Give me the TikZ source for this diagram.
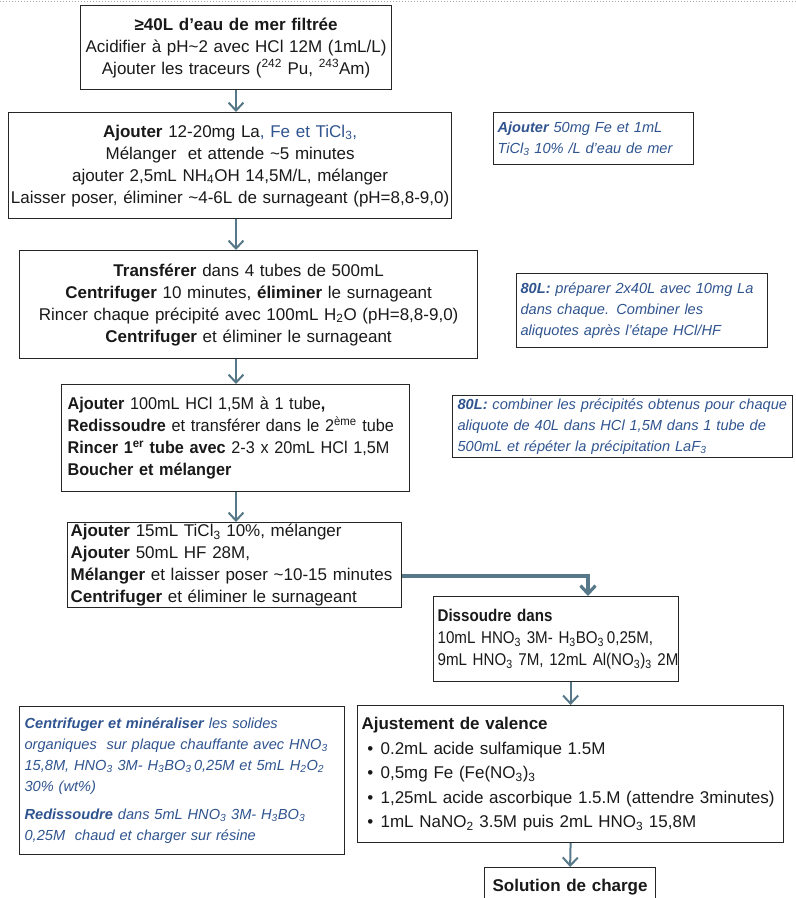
\documentclass[tikz,border=0pt]{standalone}
\usepackage{fontspec}
\setmainfont{Liberation Sans}
\newfontfamily\narrowA[FakeStretch=0.955]{Liberation Sans}
\newfontfamily\narrowB[FakeStretch=0.89]{Liberation Sans}
\usepackage{tikz}
\usetikzlibrary{arrows.meta,positioning}

\definecolor{notecol}{RGB}{47,84,143}
\definecolor{arrcol}{RGB}{86,120,136}
\newcommand{\tld}{\textasciitilde}
\newcommand{\sbs}[1]{\textsubscript{#1}}
\newcommand{\sps}[1]{\textsuperscript{#1}}

\begin{document}
\begin{tikzpicture}[x=1pt,y=-1pt,
    stepbox/.style={draw=black!85, line width=1.2pt, anchor=north west, inner ysep=0pt,
      text=black!90, font=\fontsize{17}{22}\selectfont},
    notebox/.style={draw=black!85, line width=1.2pt, anchor=north west, inner ysep=0pt,
      inner xsep=4pt, align=left, text=notecol, font=\fontsize{14.6}{21}\selectfont\itshape},
    flow/.style={color=arrcol, line width=2pt, -{Straight Barb[length=8pt,width=15pt]}}]
    \useasboundingbox (0,0) rectangle (796,898);
    \draw[dotted, gray!70, line width=1pt] (0,1) -- (796,1);
    %steps
    \node[stepbox, inner xsep=4pt, text width=303pt, minimum height=84pt, align=center] (s1) at (80,5)
      {\textbf{≥40L d’eau de mer filtrée}\\Acidifier à pH\tld2 avec HCl 12M (1mL/L)\\Ajouter les traceurs (\sps{242} Pu, \sps{243}Am)};
    \node[stepbox, inner xsep=2pt, text width=439pt, minimum height=106pt, align=center] (s2) at (8,112)
      {\textbf{Ajouter} 12-20mg La\textcolor{notecol}{, Fe et TiCl\sbs{3},}\\Mélanger\ \ et attende \tld5 minutes\\ajouter 2,5mL NH\sbs{4}OH 14,5M/L, mélanger\\Laisser poser, éliminer \tld4-6L de surnageant (pH=8,8-9,0)};
    \node[stepbox, inner xsep=4pt, text width=450pt, minimum height=108pt, align=center] (s3) at (19,250)
      {\textbf{Transférer} dans 4 tubes de 500mL\\\textbf{Centrifuger} 10 minutes, \textbf{éliminer} le surnageant\\Rincer chaque précipité avec 100mL H\sbs{2}O (pH=8,8-9,0)\\\textbf{Centrifuger} et éliminer le surnageant};
    \node[stepbox, inner xsep=6pt, text width=336pt, minimum height=107pt, align=left,
      font=\narrowA\fontsize{17}{22}\selectfont] (s4) at (61,384)
      {\textbf{Ajouter} 100mL HCl 1,5M à 1 tube\textbf{,}\\\textbf{Redissoudre} et transférer dans le 2\sps{ème} tube\\\textbf{Rincer 1\sps{er} tube avec} 2-3 x 20mL HCl 1,5M\\\textbf{Boucher et mélanger}};
    \node[stepbox, inner xsep=3pt, text width=328pt, minimum height=85pt, align=left] (s5) at (67,522)
      {\textbf{Ajouter} 15mL TiCl\sbs{3} 10\%, mélanger\\\textbf{Ajouter} 50mL HF 28M,\\\textbf{Mélanger} et laisser poser \tld10-15 minutes\\\textbf{Centrifuger} et éliminer le surnageant};
    \node[stepbox, inner xsep=4pt, text width=237pt, minimum height=85pt, align=left,
      font=\narrowB\fontsize{17}{22}\selectfont] (s6) at (433,596)
      {\textbf{Dissoudre dans}\\\mbox{10mL HNO\sbs{3} 3M- H\sbs{3}BO\sbs{3}\,0,25M,}\\\mbox{9mL HNO\sbs{3} 7M, 12mL Al(NO\sbs{3})\sbs{3} 2M}};
    \node[stepbox, inner xsep=4pt, text width=418pt, minimum height=137pt, align=left,
      font=\fontsize{17}{24.5}\selectfont] (s7) at (357,705)
      {\textbf{Ajustement de valence}\\
       \makebox[19pt][l]{\ \textbullet}0.2mL acide sulfamique 1.5M\\
       \makebox[19pt][l]{\ \textbullet}0,5mg Fe (Fe(NO\sbs{3})\sbs{3}\\
       \makebox[19pt][l]{\ \textbullet}1,25mL acide ascorbique 1.5.M (attendre 3minutes)\\
       \makebox[19pt][l]{\ \textbullet}1mL NaNO\sbs{2} 3.5M puis 2mL HNO\sbs{3} 15,8M};
    \node[stepbox, inner xsep=4pt, text width=163pt, minimum height=40pt, align=center] (s8) at (484,867)
      {\textbf{Solution de charge}};
    %notes
    \node[notebox, text width=192pt, minimum height=52pt] (n1) at (493,112)
      {\textbf{Ajouter} 50mg Fe et 1mL\\TiCl\sbs{3} 10\% /L d’eau de mer};
    \node[notebox, text width=243pt, minimum height=74pt] (n2) at (516,273)
      {\textbf{80L:} préparer 2x40L avec 10mg La\\dans chaque. Combiner les\\aliquotes après l’étape HCl/HF};
    \node[notebox, inner xsep=5pt, text width=330pt, minimum height=62pt] (n3) at (452,395)
      {\textbf{80L:} combiner les précipités obtenus pour chaque\\aliquote de 40L dans HCl 1,5M dans 1 tube de\\500mL et répéter la précipitation LaF\sbs{3}};
    \node[notebox, inner xsep=5pt, text width=315pt, minimum height=148pt] (n4) at (19,706)
      {\textbf{Centrifuger et minéraliser} les solides\\organiques\ \ sur plaque chauffante avec HNO\sbs{3}\\15,8M, HNO\sbs{3} 3M- H\sbs{3}BO\sbs{3}\,0,25M et 5mL H\sbs{2}O\sbs{2}\\30\% (wt\%)\\[7pt]\textbf{Redissoudre} dans 5mL HNO\sbs{3} 3M- H\sbs{3}BO\sbs{3}\\0,25M\ \ chaud et charger sur résine};
    %edges
    \coordinate (axis) at (236,0);
    \coordinate (turn) at (588,576);
    \path[flow]
     (axis |- s1.south) edge (axis |- s2.north)
     (axis |- s2.south) edge (axis |- s3.north)
     (axis |- s3.south) edge (axis |- s4.north)
     (axis |- s4.south) edge (axis |- s5.north)
     (s7.north |- s6.south) edge (s7.north)
     (s7.south) edge (s8.north);
    \draw[flow, line width=3.2pt] (turn -| s5.east) -- (turn) -- (turn |- s6.north);
\end{tikzpicture}
\end{document}
